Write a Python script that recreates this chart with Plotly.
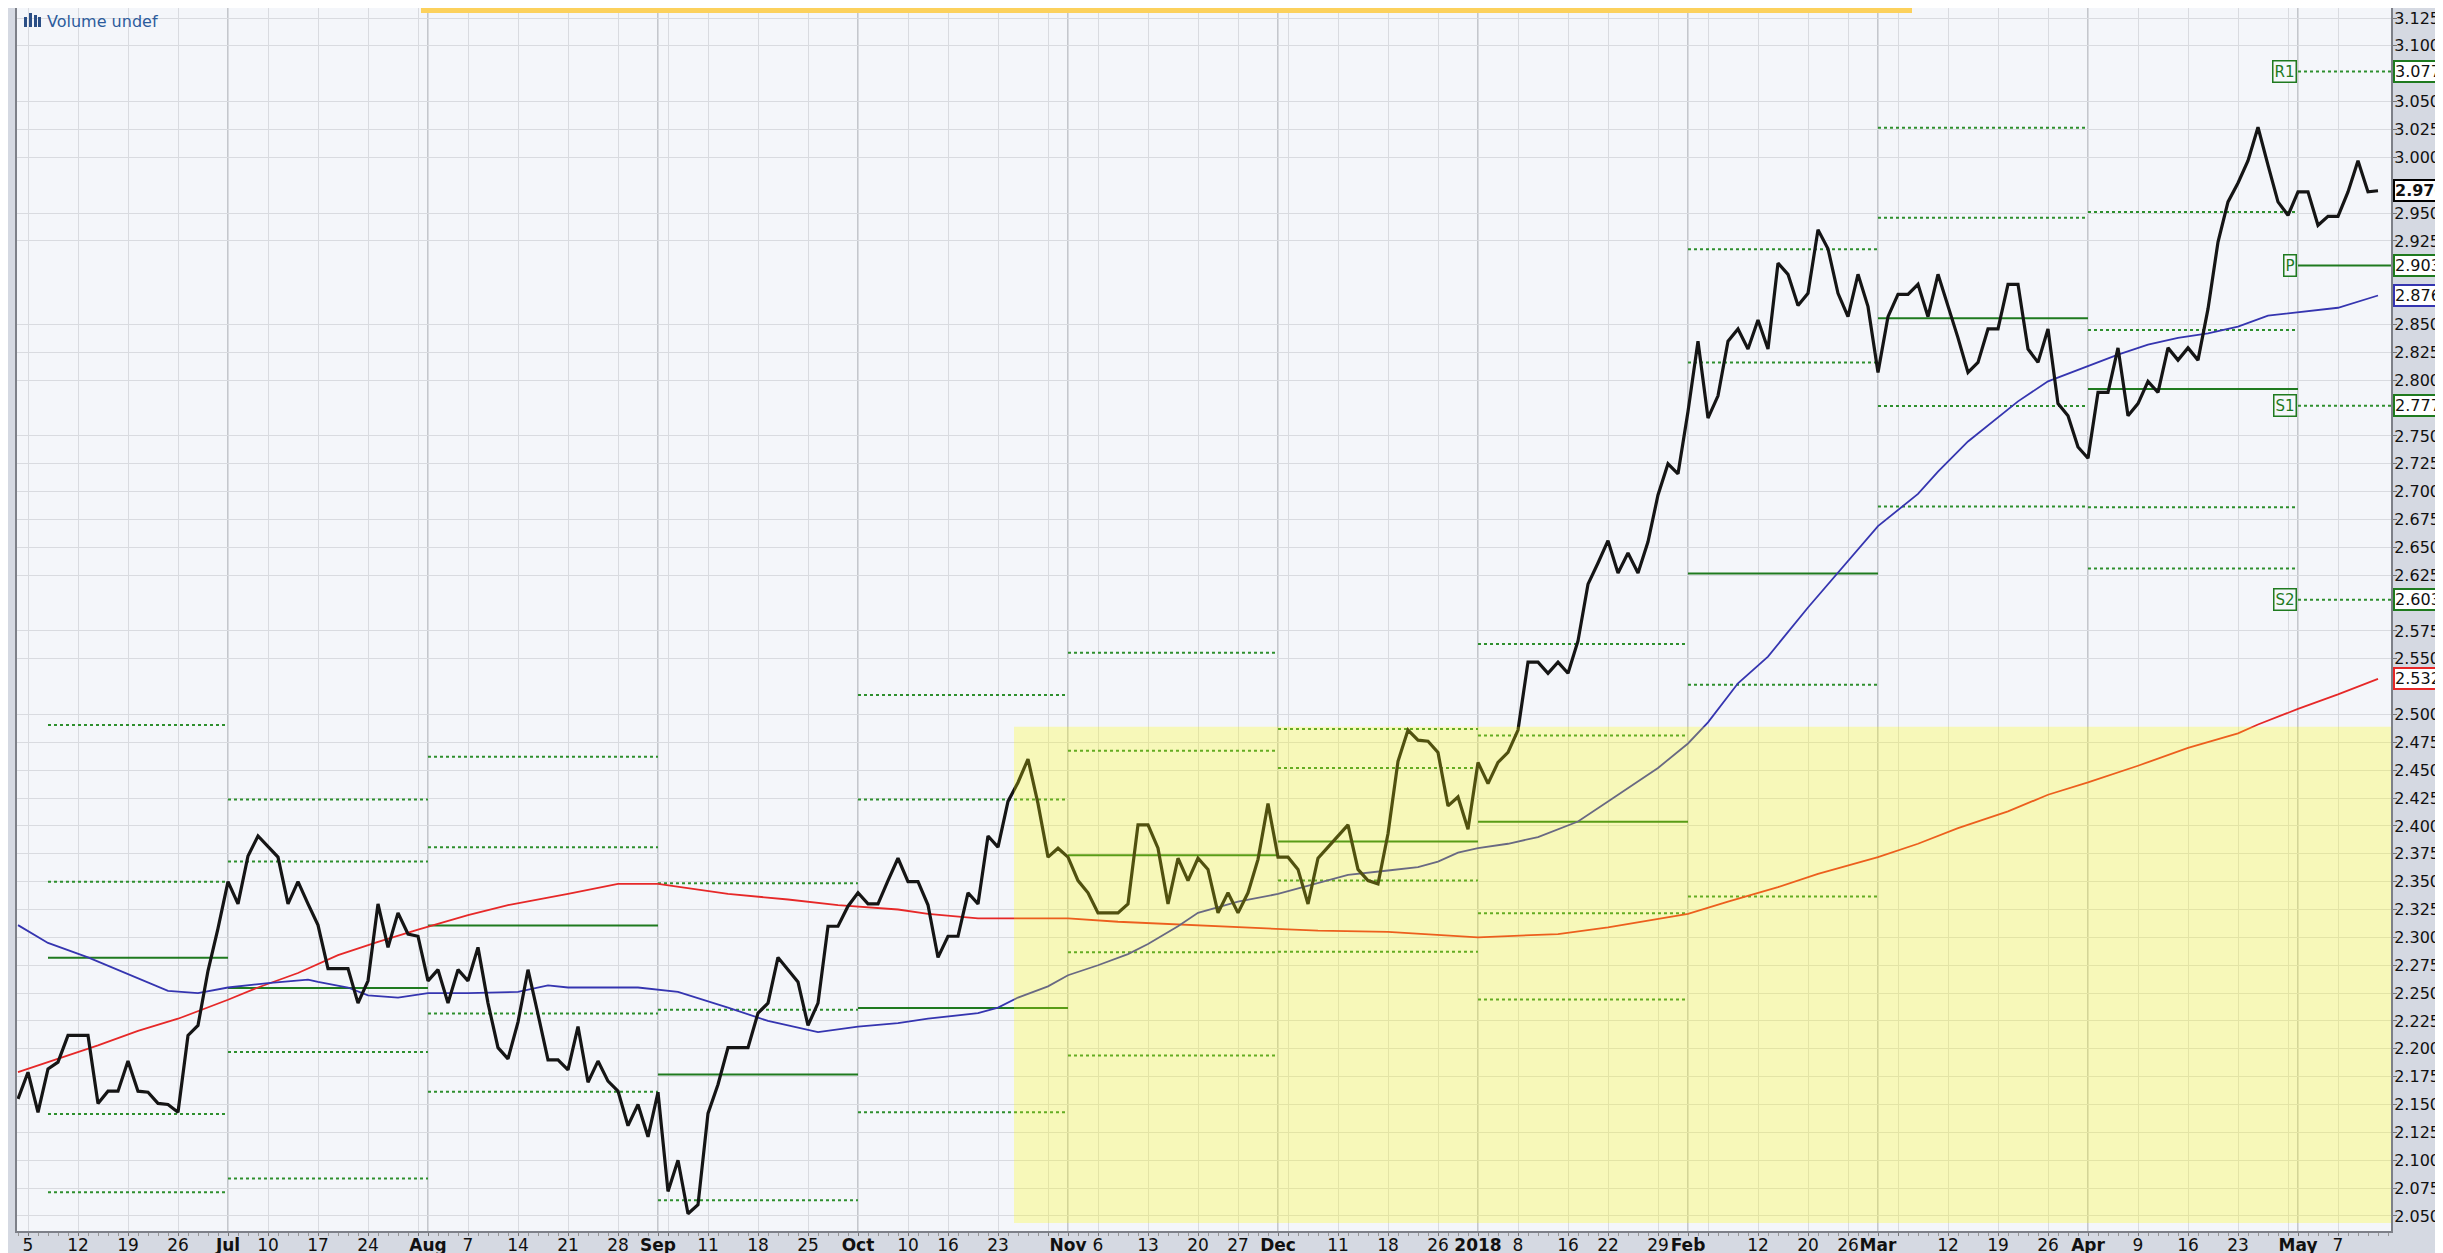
import pandas as pd
import plotly.graph_objects as go

# ---------------------------------------------------------------- data
holidays = ["2017-07-04", "2017-09-04", "2017-10-09", "2017-11-23", "2017-12-25",
            "2018-01-01", "2018-01-15", "2018-02-19", "2018-03-30"]
first_day = "2017-06-02"
last_day = "2018-05-11"

close_jun = [2.155, 2.179, 2.143, 2.182, 2.188, 2.212, 2.212, 2.212, 2.151, 2.162, 2.162,
             2.189, 2.162, 2.161, 2.151, 2.150, 2.143, 2.212, 2.221, 2.270, 2.308]
close_jul = [2.350, 2.330, 2.373, 2.391, 2.382, 2.372, 2.330, 2.350, 2.330, 2.311, 2.272,
             2.272, 2.272, 2.241, 2.261, 2.330, 2.291, 2.322, 2.303, 2.301]
close_aug = [2.261, 2.271, 2.241, 2.271, 2.261, 2.291, 2.241, 2.201, 2.191, 2.224, 2.271,
             2.231, 2.190, 2.190, 2.181, 2.220, 2.170, 2.189, 2.171, 2.162, 2.131, 2.150, 2.121]
close_sep = [2.161, 2.072, 2.100, 2.052, 2.060, 2.142, 2.168, 2.201, 2.201, 2.201, 2.232,
             2.241, 2.282, 2.271, 2.260, 2.221, 2.241, 2.310, 2.310, 2.328]
close_oct = [2.340, 2.330, 2.330, 2.351, 2.371, 2.350, 2.350, 2.329, 2.282, 2.301, 2.301,
             2.340, 2.330, 2.391, 2.381, 2.422, 2.439, 2.460, 2.420, 2.372, 2.380]
close_nov = [2.372, 2.351, 2.340, 2.322, 2.322, 2.322, 2.330, 2.401, 2.401, 2.380, 2.330,
             2.371, 2.351, 2.371, 2.361, 2.322, 2.340, 2.322, 2.340, 2.370, 2.420]
close_dec = [2.372, 2.372, 2.361, 2.330, 2.371, 2.381, 2.391, 2.401, 2.361, 2.351, 2.348,
             2.393, 2.458, 2.486, 2.477, 2.476, 2.466, 2.418, 2.426, 2.397]
close_jan = [2.457, 2.438, 2.457, 2.466, 2.486, 2.547, 2.547, 2.537, 2.547, 2.537, 2.566,
             2.617, 2.636, 2.656, 2.627, 2.645, 2.627, 2.655, 2.697, 2.725, 2.716]
close_feb = [2.772, 2.835, 2.766, 2.786, 2.835, 2.846, 2.828, 2.854, 2.828, 2.905, 2.895,
             2.867, 2.878, 2.935, 2.918, 2.878, 2.857, 2.895, 2.866]
close_mar = [2.807, 2.857, 2.877, 2.877, 2.886, 2.857, 2.895, 2.867, 2.838, 2.807, 2.816,
             2.846, 2.846, 2.886, 2.886, 2.828, 2.816, 2.846, 2.779, 2.768, 2.740]
close_apr = [2.730, 2.789, 2.789, 2.829, 2.768, 2.779, 2.799, 2.789, 2.829, 2.818, 2.829,
             2.818, 2.864, 2.924, 2.960, 2.977, 2.997, 3.027, 2.993, 2.960, 2.948]
close_may = [2.969, 2.969, 2.939, 2.947, 2.947, 2.969, 2.997, 2.969, 2.970]

ma50_dates = ["2017-06-02", "2017-06-07", "2017-06-13", "2017-06-19", "2017-06-23", "2017-06-28",
              "2017-07-03", "2017-07-10", "2017-07-14", "2017-07-17", "2017-07-20", "2017-07-24",
              "2017-07-27", "2017-08-01", "2017-08-07", "2017-08-14", "2017-08-17", "2017-08-21",
              "2017-08-30", "2017-09-06", "2017-09-11", "2017-09-13", "2017-09-19", "2017-09-26",
              "2017-10-02", "2017-10-06", "2017-10-12", "2017-10-19", "2017-10-23", "2017-10-25",
              "2017-10-30", "2017-11-01", "2017-11-06", "2017-11-09", "2017-11-13", "2017-11-16",
              "2017-11-20", "2017-11-27", "2017-12-01", "2017-12-07", "2017-12-12", "2017-12-18",
              "2017-12-21", "2017-12-26", "2017-12-28", "2018-01-02", "2018-01-05", "2018-01-10",
              "2018-01-12", "2018-01-17", "2018-01-22", "2018-01-24", "2018-01-29", "2018-02-01",
              "2018-02-05", "2018-02-08", "2018-02-13", "2018-02-20", "2018-02-23", "2018-03-01",
              "2018-03-07", "2018-03-09", "2018-03-14", "2018-03-21", "2018-03-26", "2018-04-02",
              "2018-04-05", "2018-04-10", "2018-04-13", "2018-04-18", "2018-04-23", "2018-04-26",
              "2018-05-01", "2018-05-07", "2018-05-11"]
ma50_values = [2.311, 2.295, 2.282, 2.267, 2.252, 2.250,
               2.255, 2.259, 2.262, 2.260, 2.255, 2.248,
               2.246, 2.250, 2.250, 2.251, 2.257, 2.255,
               2.255, 2.251, 2.243, 2.237, 2.225, 2.215,
               2.220, 2.223, 2.227, 2.232, 2.237, 2.246,
               2.256, 2.266, 2.275, 2.285, 2.294, 2.310,
               2.322, 2.332, 2.339, 2.349, 2.356, 2.360,
               2.363, 2.368, 2.376, 2.380, 2.384, 2.390,
               2.397, 2.404, 2.422, 2.434, 2.452, 2.474,
               2.493, 2.528, 2.552, 2.596, 2.627, 2.669,
               2.698, 2.718, 2.745, 2.781, 2.799, 2.813,
               2.823, 2.832, 2.838, 2.842, 2.848, 2.858,
               2.861, 2.865, 2.876]

ma200_dates = ["2017-06-02", "2017-06-07", "2017-06-14", "2017-06-20", "2017-06-26", "2017-07-03",
               "2017-07-07", "2017-07-13", "2017-07-19", "2017-07-25", "2017-07-31", "2017-08-07",
               "2017-08-11", "2017-08-21", "2017-08-28", "2017-09-01", "2017-09-11", "2017-09-13",
               "2017-09-21", "2017-09-28", "2017-10-06", "2017-10-12", "2017-10-19", "2017-10-25",
               "2017-11-01", "2017-11-08", "2017-11-15", "2017-11-27", "2017-12-01", "2017-12-07",
               "2017-12-18", "2018-01-02", "2018-01-12", "2018-01-22", "2018-02-01", "2018-02-07",
               "2018-02-14", "2018-02-21", "2018-03-01", "2018-03-07", "2018-03-13", "2018-03-20",
               "2018-03-26", "2018-04-02", "2018-04-09", "2018-04-16", "2018-04-23", "2018-04-25",
               "2018-05-01", "2018-05-07", "2018-05-11"]
ma200_values = [2.179, 2.188, 2.203, 2.216, 2.227, 2.244,
                2.255, 2.268, 2.284, 2.296, 2.307, 2.320,
                2.329, 2.339, 2.348, 2.348, 2.342, 2.339,
                2.334, 2.329, 2.325, 2.321, 2.317, 2.317,
                2.317, 2.314, 2.312, 2.309, 2.307, 2.306,
                2.305, 2.300, 2.303, 2.309, 2.321, 2.332,
                2.345, 2.357, 2.372, 2.384, 2.398, 2.413,
                2.428, 2.439, 2.454, 2.470, 2.483, 2.491,
                2.505, 2.518, 2.532]

# monthly pivot points (segment starts) and levels
pivot_start_dates = ["2017-06-07", "2017-07-03", "2017-08-01", "2017-09-01", "2017-10-02",
                     "2017-11-01", "2017-12-01", "2018-01-02", "2018-02-01", "2018-03-01",
                     "2018-04-02", "2018-05-01"]
pivot_r2 = [2.4905, 2.4238, 2.4620, 2.3485, 2.5174, 2.5554, 2.4870, 2.5633, 2.9176, 3.0265, 2.9510, 3.2030]
pivot_r1 = [2.3500, 2.3680, 2.3808, 2.2350, 2.4237, 2.4674, 2.4520, 2.4811, 2.8158, 2.9458, 2.8450, 3.0770]
pivot_p = [2.2818, 2.2546, 2.3107, 2.1770, 2.2367, 2.3737, 2.3860, 2.4037, 2.6266, 2.8556, 2.7920, 2.9030]
pivot_s1 = [2.1415, 2.1972, 2.2316, 2.0640, 2.1430, 2.2867, 2.3510, 2.3216, 2.5267, 2.7768, 2.6860, 2.7770]
pivot_s2 = [2.0713, 2.0837, 2.1614, 2.0060, 1.9560, 2.1939, 2.2870, 2.2442, 2.3366, 2.6867, 2.6310, 2.6030]

tick_dates = ["2017-06-05", "2017-06-12", "2017-06-19", "2017-06-26", "2017-07-03", "2017-07-10",
              "2017-07-17", "2017-07-24", "2017-07-31", "2017-08-01", "2017-08-07", "2017-08-14",
              "2017-08-21", "2017-08-28", "2017-09-01", "2017-09-05", "2017-09-11", "2017-09-18",
              "2017-09-25", "2017-10-02", "2017-10-10", "2017-10-16", "2017-10-23", "2017-10-30",
              "2017-11-01", "2017-11-06", "2017-11-13", "2017-11-20", "2017-11-27", "2017-12-01",
              "2017-12-04", "2017-12-11", "2017-12-18", "2017-12-26", "2018-01-02", "2018-01-08",
              "2018-01-16", "2018-01-22", "2018-01-29", "2018-02-01", "2018-02-05", "2018-02-12",
              "2018-02-20", "2018-02-26", "2018-03-01", "2018-03-05", "2018-03-12", "2018-03-19",
              "2018-03-26", "2018-04-02", "2018-04-09", "2018-04-16", "2018-04-23", "2018-04-30",
              "2018-05-01", "2018-05-07"]
tick_labels = ["5", "12", "19", "26", "<b>Jul</b>", "10",
               "17", "24", "", "<b>Aug</b>", "7", "14",
               "21", "28", "<b>Sep</b>", "", "11", "18",
               "25", "<b>Oct</b>", "10", "16", "23", "",
               "<b>Nov</b>", "6", "13", "20", "27", "<b>Dec</b>",
               "", "11", "18", "26", "<b>2018</b>", "8",
               "16", "22", "29", "<b>Feb</b>", "", "12",
               "20", "26", "<b>Mar</b>", "", "12", "19",
               "26", "<b>Apr</b>", "9", "16", "23", "",
               "<b>May</b>", "7"]
month_start_dates = ["2017-07-03", "2017-08-01", "2017-09-01", "2017-10-02", "2017-11-01",
                     "2017-12-01", "2018-01-02", "2018-02-01", "2018-03-01", "2018-04-02", "2018-05-01"]

y_tick_first = 2.050
y_tick_last = 3.125
y_tick_step = 0.025

highlight_start = "2017-10-24"
highlight_low = 2.0437
highlight_high = 2.489
top_bar_start = "2017-07-31"
top_bar_end = "2018-03-06"

# ---------------------------------------------------------------- build
trading_days = [d.strftime("%Y-%m-%d") for d in pd.bdate_range(first_day, last_day)
                if d.strftime("%Y-%m-%d") not in holidays]
close = (close_jun + close_jul + close_aug + close_sep + close_oct + close_nov +
         close_dec + close_jan + close_feb + close_mar + close_apr + close_may)
assert len(close) == len(trading_days), (len(close), len(trading_days))
pos = {d: i for i, d in enumerate(trading_days)}
x_idx = list(range(len(trading_days)))

W, H = 2443, 1253
ML, MR, MT, MB = 9, 60, 0, 30
PW, PH = W - ML - MR, H - MT - MB
X_RANGE = [-0.1, len(trading_days) + 0.3]
Y_RANGE = [2.0365, 3.134]

FONT = "DejaVu Sans"
GREEN_SOLID = "#1f7a1f"
GREEN_DOT = "#2e8f2e"
BLUE = "#3535b0"
RED = "#e62828"


def px_x(p):
    return (p - ML) / PW


def px_y(p):
    return 1 - (p - MT) / PH


fig = go.Figure()

# pivot segments
seg_starts = [pos[d] for d in pivot_start_dates]
seg_ends = seg_starts[1:] + [X_RANGE[1] + 2]


def seg_xy(levels):
    xs, ys = [], []
    for s, e, v in zip(seg_starts, seg_ends, levels):
        xs += [s, e, None]
        ys += [v, v, None]
    return xs, ys


for levels, dash, col in [(pivot_r2, "dot", GREEN_DOT), (pivot_r1, "dot", GREEN_DOT),
                          (pivot_s1, "dot", GREEN_DOT), (pivot_s2, "dot", GREEN_DOT),
                          (pivot_p, "solid", GREEN_SOLID)]:
    xs, ys = seg_xy(levels)
    fig.add_trace(go.Scatter(x=xs, y=ys, mode="lines",
                             line=dict(color=col, width=2, dash=dash),
                             hoverinfo="skip", showlegend=False))

# moving averages
fig.add_trace(go.Scatter(x=[pos[d] for d in ma200_dates], y=ma200_values, mode="lines",
                         line=dict(color=RED, width=1.8), hoverinfo="skip", showlegend=False))
fig.add_trace(go.Scatter(x=[pos[d] for d in ma50_dates], y=ma50_values, mode="lines",
                         line=dict(color=BLUE, width=1.8), hoverinfo="skip", showlegend=False))

# price
fig.add_trace(go.Scatter(x=x_idx, y=close, mode="lines",
                         line=dict(color="#151515", width=3.2), showlegend=False))

shapes = []
# darker month gridlines
for d in month_start_dates:
    shapes.append(dict(type="line", xref="x", yref="paper", x0=pos[d], x1=pos[d], y0=0, y1=1,
                       line=dict(color="#b4b7bd", width=1.5), layer="between"))
# yellow highlight (semi-transparent, on top)
shapes.append(dict(type="rect", xref="x", yref="y", x0=pos[highlight_start] + 0.6,
                   x1=X_RANGE[1] + 5, y0=highlight_low, y1=highlight_high,
                   fillcolor="rgba(255,255,0,0.26)", line=dict(width=0), layer="above"))
# orange bar at the top
shapes.append(dict(type="rect", xref="x", yref="paper", x0=pos[top_bar_start] + 0.3,
                   x1=pos[top_bar_end] + 0.4, y0=px_y(5), y1=1.0,
                   fillcolor="#fcd15c", line=dict(width=0), layer="above"))
# volume icon bars
for (bx, btop) in [(16, 9), (21, 5), (26, 7), (30, 9)]:
    shapes.append(dict(type="rect", xref="paper", yref="paper", x0=px_x(bx), x1=px_x(bx + 3),
                       y0=px_y(19), y1=px_y(btop), fillcolor="#2b4f86", line=dict(width=0),
                       layer="above"))
fig.update_layout(shapes=shapes)

annotations = []
annotations.append(dict(xref="paper", yref="paper", x=px_x(37), y=px_y(13), xanchor="left",
                        yanchor="middle", text="Volume undef", showarrow=False,
                        font=dict(family=FONT, size=16, color="#2c5b9c")))

# pivot name boxes for current month
cur = len(pivot_start_dates) - 1
for name, lv in [("R1", pivot_r1[cur]), ("P", pivot_p[cur]), ("S1", pivot_s1[cur]), ("S2", pivot_s2[cur])]:
    annotations.append(dict(xref="x", yref="y", x=seg_starts[cur], y=lv, xanchor="right",
                            yanchor="middle", text=name, showarrow=False, xshift=-1,
                            font=dict(family=FONT, size=15, color=GREEN_SOLID),
                            bgcolor="#f5f7fb", bordercolor=GREEN_SOLID, borderwidth=1.5,
                            borderpad=1))

# right-hand value tags
tags = [(pivot_r1[cur], GREEN_SOLID, False), (close[-1], "#000000", True),
        (pivot_p[cur], GREEN_SOLID, False), (ma50_values[-1], BLUE, False),
        (pivot_s1[cur], GREEN_SOLID, False), (pivot_s2[cur], GREEN_SOLID, False),
        (ma200_values[-1], RED, False)]
for v, col, bold in tags:
    txt = f"{v:.3f}"
    if bold:
        txt = f"<b>{txt}</b>"
    annotations.append(dict(xref="paper", yref="y", x=1.0, y=v, xanchor="left", yanchor="middle",
                            text=txt, showarrow=False, xshift=2,
                            font=dict(family=FONT, size=16, color="#111111"),
                            bgcolor="#ffffff", bordercolor=col, borderwidth=2, borderpad=0))
fig.update_layout(annotations=annotations)

# y ticks: every step, except those hidden behind a value tag
n_steps = int(round((y_tick_last - y_tick_first) / y_tick_step))
y_ticks = [round(y_tick_first + k * y_tick_step, 3) for k in range(n_steps + 1)]
y_ticks = [t for t in y_ticks if all(abs(t - v) > 0.0105 for v, _, _ in tags)]

fig.update_layout(
    width=W, height=H,
    margin=dict(l=ML, r=MR, t=MT, b=MB, pad=0),
    paper_bgcolor="#d5d9e2",
    plot_bgcolor="#f4f6fa",
    showlegend=False,
    xaxis=dict(range=X_RANGE, tickmode="array", tickvals=[pos[d] for d in tick_dates],
               ticktext=tick_labels, tickangle=0, showgrid=True, gridcolor="#d9dbe0",
               gridwidth=1, zeroline=False, showline=True, linecolor="#7d8088", linewidth=2,
               ticks="outside", ticklen=3, tickcolor="#777", ticklabelstandoff=-5,
               tickfont=dict(family=FONT, size=17, color="#111"),
               minor=dict(dtick=1, tick0=0, ticks="outside", ticklen=3, tickcolor="#999",
                          showgrid=False)),
    yaxis=dict(range=Y_RANGE, side="right", tickmode="array", tickvals=y_ticks,
               ticktext=[f"{t:.3f}" for t in y_ticks],
               showgrid=True, gridcolor="#d9dbe0", gridwidth=1, zeroline=False,
               showline=True, mirror=True, linecolor="#7d8088", linewidth=2,
               ticks="outside", ticklen=4, tickcolor="#777", ticklabelstandoff=-6,
               tickfont=dict(family=FONT, size=16, color="#111")),
)

fig.write_html("out.html")
